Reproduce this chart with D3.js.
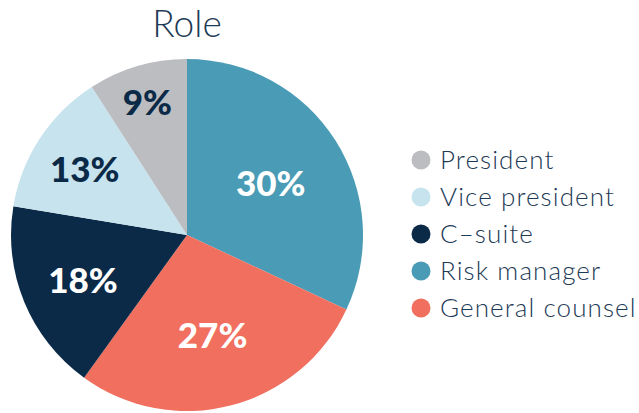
<!DOCTYPE html>
<html>
<head>
<meta charset="utf-8">
<script src="https://cdn.jsdelivr.net/npm/d3@7"></script>
<style>
  body { margin: 0; background: #fff; }
  svg { display: block; }
</style>
</head>
<body>
<div id="chart"></div>
<script>
// Data
var roles = ["Risk manager", "General counsel", "C\u2013suite", "Vice president", "President"];
var shares = [32, 28, 17.7, 13.3, 9.1];      // slice size as drawn
var labels = ["30%", "27%", "18%", "13%", "9%"]; // printed percentages
var legendOrder = ["President", "Vice president", "C\u2013suite", "Risk manager", "General counsel"];
var colors = ["#4a9bb5", "#f16f5e", "#0b2a47", "#c6e3ee", "#bcbdc1"];

var width = 639, height = 413;
var cx = 187, cy = 235, radius = 176;
var navy = "#1d3a56";

var svg = d3.select("#chart")
  .append("svg")
  .attr("width", width)
  .attr("height", height);

var color = d3.scaleOrdinal().domain(roles).range(colors);

// Title
svg.append("text")
  .attr("x", cx)
  .attr("y", 37)
  .attr("text-anchor", "middle")
  .style("font-family", "Lato, sans-serif")
  .style("font-weight", 300)
  .style("font-size", "37px")
  .style("fill", navy)
  .text("Role");

var pie = d3.pie().sort(null).value(function(d) { return d.share; });
var arc = d3.arc().innerRadius(0).outerRadius(radius);

var data = roles.map(function(r, i) { return { role: r, share: shares[i], label: labels[i] }; });
var total = d3.sum(shares);
var arcs = pie(data);

var g = svg.append("g")
  .attr("transform", "translate(" + cx + "," + cy + ")");

g.selectAll(".slice")
  .data(arcs)
  .enter()
  .append("path")
  .attr("class", "slice")
  .attr("d", arc)
  .attr("fill", function(d) { return color(d.data.role); });

// Labels: smaller slices get pushed further out
g.selectAll(".pct")
  .data(arcs)
  .enter()
  .append("text")
  .attr("class", "pct")
  .attr("transform", function(d) {
    var frac = d.data.share / total;
    var r = radius * (0.47 + 0.03 / frac);
    var a = (d.startAngle + d.endAngle) / 2;
    return "translate(" + (Math.sin(a) * r) + "," + (-Math.cos(a) * r) + ")";
  })
  .attr("text-anchor", "middle")
  .attr("dy", "0.42em")
  .style("font-family", "Lato, sans-serif")
  .style("font-weight", 900)
  .style("font-size", "35px")
  .style("fill", function(d) {
    return (d.data.role === "Vice president" || d.data.role === "President") ? "#0b2a47" : "#fff";
  })
  .text(function(d) { return d.data.label; });

// Legend
var legend = svg.append("g")
  .attr("transform", "translate(421,160)");

var item = legend.selectAll(".item")
  .data(legendOrder)
  .enter()
  .append("g")
  .attr("class", "item")
  .attr("transform", function(d, i) { return "translate(0," + (i * 37) + ")"; });

item.append("circle")
  .attr("r", 9.5)
  .attr("fill", function(d) { return color(d); });

item.append("text")
  .attr("x", 19)
  .attr("dy", "0.36em")
  .style("font-family", "Lato, sans-serif")
  .style("font-weight", 300)
  .style("font-size", "26px")
  .style("letter-spacing", "1.1px")
  .style("fill", navy)
  .text(function(d) { return d; });
</script>
</body>
</html>
